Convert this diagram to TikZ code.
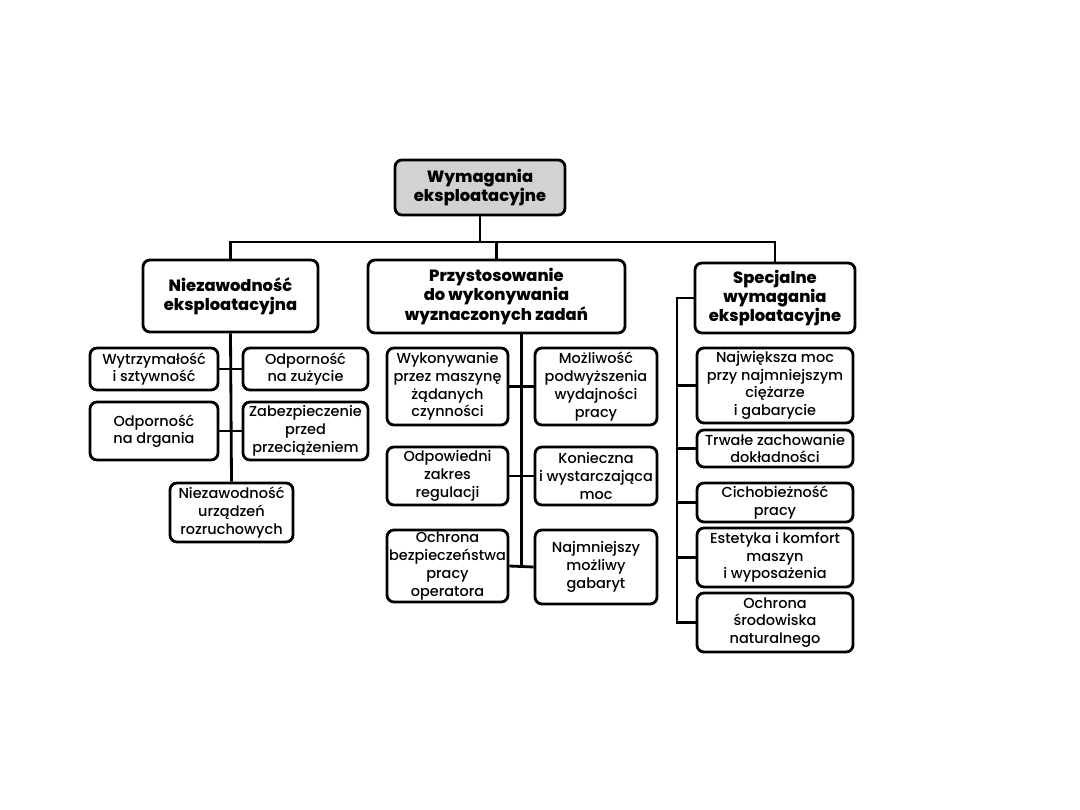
\documentclass[tikz,border=0pt]{standalone}
\usepackage{fontspec}
\setmainfont{Poppins}[UprightFont=* Medium, BoldFont=* ExtraBold]
\usepackage{tikz}

\begin{document}
\begin{tikzpicture}[x=0.025cm, y=-0.025cm,
    every node/.style={font=\fontsize{10.3}{12.6}\selectfont, align=center},
    box/.style={draw, line width=2pt, rounded corners=5pt, fill=white, inner sep=1pt},
    glowny/.style={box, font=\fontsize{11.6}{13.6}\selectfont\bfseries},
    polacz/.style={line width=2pt}]
    \useasboundingbox (0,0) rectangle (1080,810);
    % korzen
    \node[glowny, fill=gray!35, minimum width=4.25cm, minimum height=1.375cm] (wym) at (480,187.5)
        {Wymagania\\eksploatacyjne};
    % trzy grupy
    \node[glowny, minimum width=4.375cm, minimum height=1.8cm] (niez) at (230.5,296)
        {Niezawodność\\eksploatacyjna};
    \node[glowny, minimum width=6.425cm, minimum height=1.825cm] (przy) at (496.5,296.5)
        {Przystosowanie\\do wykonywania\\wyznaczonych zadań};
    \node[glowny, minimum width=4cm, minimum height=1.75cm] (spec) at (775,298)
        {Specjalne\\wymagania\\eksploatacyjne};
    % grupa lewa
    \node[box, minimum width=3.2cm, minimum height=1.05cm] (wytrz) at (154,369) {Wytrzymałość\\i sztywność};
    \node[box, minimum width=3.125cm, minimum height=1.05cm] (odpz) at (305.5,369) {Odporność\\na zużycie};
    \node[box, minimum width=3.2cm, minimum height=1.45cm] (odpd) at (154,431) {Odporność\\na drgania};
    \node[box, minimum width=3.125cm, minimum height=1.45cm] (zab) at (305.5,431) {Zabezpieczenie\\przed\\przeciążeniem};
    \node[box, minimum width=3.075cm, minimum height=1.475cm] (niezr) at (231.5,512.5) {Niezawodność\\urządzeń\\rozruchowych};
    % grupa srodkowa
    \node[box, minimum width=3.025cm, minimum height=1.925cm] (wyk) at (447.5,386.5) {Wykonywanie\\przez maszynę\\żądanych\\czynności};
    \node[box, minimum width=3.05cm, minimum height=1.925cm] (mozl) at (596,386.5) {Możliwość\\podwyższenia\\wydajności\\pracy};
    \node[box, minimum width=3.025cm, minimum height=1.45cm] (odpr) at (447.5,476) {Odpowiedni\\zakres\\regulacji};
    \node[box, minimum width=3.05cm, minimum height=1.45cm] (kon) at (596,476) {Konieczna\\i wystarczająca\\moc};
    \node[box, minimum width=3.025cm, minimum height=1.8cm] (ochr) at (447.5,566) {Ochrona\\bezpieczeństwa\\pracy\\operatora};
    \node[box, minimum width=3.05cm, minimum height=1.85cm] (najm) at (596,567) {Najmniejszy\\możliwy\\gabaryt};
    % grupa prawa
    \node[box, minimum width=3.9cm, minimum height=1.875cm] (najw) at (775,385.5) {Największa moc\\przy najmniejszym\\ciężarze\\i gabarycie};
    \node[box, minimum width=3.9cm, minimum height=0.925cm] (trw) at (775,448.5) {Trwałe zachowanie\\dokładności};
    \node[box, minimum width=3.9cm, minimum height=0.975cm] (cich) at (775,502.5) {Cichobieżność\\pracy};
    \node[box, minimum width=3.9cm, minimum height=1.475cm] (est) at (775,557.5) {Estetyka i komfort\\maszyn\\i wyposażenia};
    \node[box, minimum width=3.9cm, minimum height=1.475cm] (ochs) at (775,622.5) {Ochrona\\środowiska\\naturalnego};
    % szyna gorna
    \coordinate (bus) at (480,242);
    \draw[polacz] (wym.south) -- (wym.south |- bus);
    \draw[polacz] (niez.north) |- (bus) -| (spec.north);
    \draw[polacz] (przy.north) -- (przy.north |- bus);
    % polaczenia lewe
    \draw[polacz] (niez.south) -- (niezr.north);
    \draw[polacz] (wytrz.east) -- (odpz.west);
    \draw[polacz] (odpd.east) -- (zab.west);
    % polaczenia srodkowe
    \path (ochr.east) -- (najm.west) coordinate[midway] (m3);
    \draw[polacz] (przy.south -| m3) -- (m3);
    \foreach \a/\b in {wyk/mozl, odpr/kon, ochr/najm}
        \draw[polacz] (\a.east) -- (\b.west);
    % polaczenia prawe
    \coordinate (rb) at (677,622.5);
    \draw[polacz] (spec.west) -| (rb) -- (ochs.west);
    \foreach \n in {najw, trw, cich, est}
        \draw[polacz] (rb |- \n.west) -- (\n.west);
\end{tikzpicture}
\end{document}
